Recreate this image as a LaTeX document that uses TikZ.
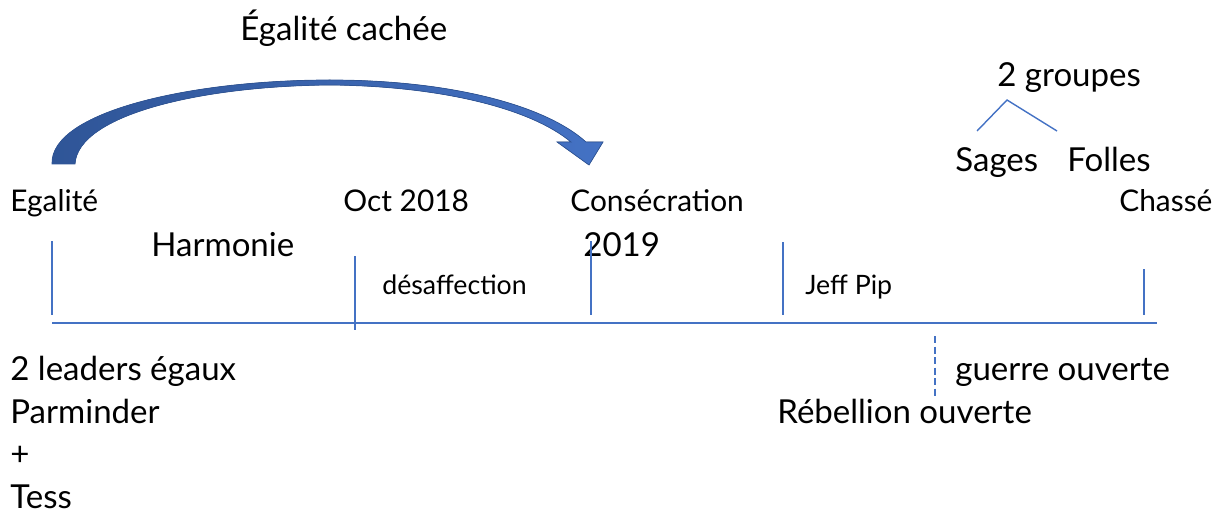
\documentclass[tikz,border=0pt]{standalone}
\usepackage{fontspec}
\setmainfont{Lato}
\usepackage{xcolor}
\usetikzlibrary{positioning,calc}
\definecolor{lineblue}{HTML}{4472C4}
\definecolor{arrowdark}{HTML}{2F5597}
\definecolor{arrowlight}{HTML}{4472C4}

\begin{document}
\begin{tikzpicture}[x=0.02cm, y=-0.02cm, every node/.style={inner sep=0pt, anchor=base west},
    big/.style={font=\fontsize{18.8}{20}\selectfont},
    mid/.style={font=\fontsize{17}{19}\selectfont},
    small/.style={font=\fontsize{15.2}{17}\selectfont},
    tickline/.style={draw=lineblue, line width=0.8pt}]
    \useasboundingbox (0,0) rectangle (1223,513);

    % curved arrow over the first period
    \fill [left color=arrowdark, right color=arrowlight, draw=arrowdark, line width=0.4pt]
        (52,164) .. controls (50,112) and (190,80) .. (330,80)
        .. controls (450,80) and (545,105) .. (586,142) -- (603,142) -- (589,165) -- (557,142) -- (571,142)
        .. controls (530,108) and (440,86) .. (330,85)
        .. controls (200,86) and (78,115) .. (75,164) -- cycle;
    \node [big] (cachee) at (240,41) {Égalité cachée};

    % the two groups
    \node [big] (groupes) at (997,87) {2 groupes};
    \node [big] (sages) at (955,172) {Sages};
    \node [big] (folles) at (1067,172) {Folles};
    \coordinate (split) at (1007,100);
    \coordinate (sagestop) at (977,131);
    \coordinate (follestop) at (1057,131);
    \draw [tickline] (sagestop) -- (split) -- (follestop);

    % dates above the line
    \node [mid] (egal) at (10,212) {Egalité};
    \node [mid] (oct) at (343,212) {Oct 2018};
    \node [mid] (consec) at (570,212) {Consécration};
    \node [mid] (chasse) at (1119,212) {Chassé};
    \node [big] (harmonie) at (151,256) {Harmonie};
    \node [big] (annee) at (583,256) {2019};
    \node [small] (desaff) at (382,294) {désaffection};
    \node [small] (jeff) at (805,294) {Jeff Pip};

    % time line and ticks
    \coordinate (start) at (52,323);
    \coordinate (end) at (1157,323);
    \draw [tickline] (start) -- (end);
    \draw [tickline] (52,241) -- (52,315);
    \draw [tickline] (355,256) -- (355,330);
    \draw [tickline] (591,241) -- (591,315);
    \draw [tickline] (783,242) -- (783,315);
    \draw [tickline] (1144,269) -- (1144,315);
    \draw [tickline, dashed, dash pattern=on 4pt off 2pt] (935,336) -- (935,397);

    % below the line
    \node [big] (leaders) at (10,380) {2 leaders égaux};
    \node [big] (parm) at (10,423) {Parminder};
    \node [big] (plus) at (10,465) {+};
    \node [big] (tess) at (10,508) {Tess};
    \node [big] (guerre) at (955,380) {guerre ouverte};
    \node [big] (rebel) at (777,423) {Rébellion ouverte};
\end{tikzpicture}
\end{document}
